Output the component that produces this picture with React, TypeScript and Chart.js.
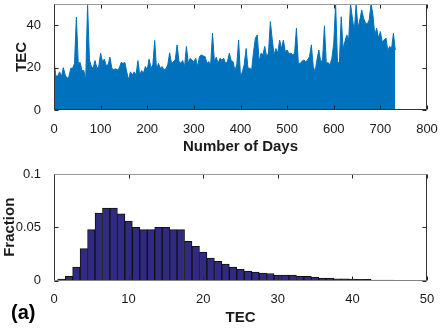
import React, { useEffect, useRef } from "react";
import { Chart, registerables } from "chart.js";

Chart.register(...registerables);

// ---------- data ----------
// Upper envelope of TEC, one value every DAY_STEP days (day 0 .. 732)
const DAY_STEP = 4;
const tecUpper: number[] = [
  23, 16, 16, 18, 15.7, 20, 16.5, 15, 15.7, 19.7,
  19.7, 22, 43.8, 22, 22.4, 18.6, 18.6, 14, 50, 23.6,
  20.5, 19.7, 23.3, 19.7, 20.5, 26.8, 22.8, 24, 21, 21.3,
  24.9, 19.7, 19, 19.4, 19, 19.7, 22.4, 22, 22.4, 18,
  14.2, 18, 16.5, 18, 16.5, 23.3, 16.5, 18.6, 17.3, 20.5,
  19, 24, 19.7, 21.3, 32.8, 19, 22, 19.7, 20.5, 18.9,
  19.4, 21.3, 27, 22, 22.8, 23.6, 30.7, 23, 22, 23.3,
  20.5, 30, 22, 24.4, 23.5, 22.8, 24.4, 20.5, 25.2, 26,
  25.5, 25.2, 22, 22.8, 21.3, 36.2, 22.8, 24.9, 22, 24.4,
  23.6, 24.4, 22, 22.8, 26.8, 23.3, 22.8, 18.6, 21.3, 33,
  15.7, 18, 21.3, 29, 19.7, 19.7, 19, 27.5, 33.9, 35.4,
  22.8, 26.8, 26, 30, 25.2, 26.8, 41.7, 33.4, 26, 29,
  26.8, 33, 29, 33, 27.5, 28.3, 26.5, 26.8, 26, 26.8,
  38.6, 22, 22, 23, 23.6, 22.8, 23.6, 25.2, 30.7, 20.5,
  18, 23.6, 28.3, 22.8, 23.6, 39.7, 22, 22.4, 21.3, 24.4,
  31.5, 50, 22.8, 22, 44, 29, 32.3, 35.4, 33, 50,
  43.3, 37, 50, 38.6, 42.5, 47.2, 43.3, 41, 40.5, 42.5,
  50, 44.9, 35.4, 38.6, 33.9, 37, 32, 33, 33.9, 28,
  30, 29, 36.2, 28.3,
];
const dayTicks = [0, 100, 200, 300, 400, 500, 600, 700, 800];
const tecTicks = [0, 20, 40];

// Histogram of TEC (bin centres 1..50, width 1)
const binCenters = [
  1, 2, 3, 4, 5, 6, 7, 8, 9, 10,
  11, 12, 13, 14, 15, 16, 17, 18, 19, 20,
  21, 22, 23, 24, 25, 26, 27, 28, 29, 30,
  31, 32, 33, 34, 35, 36, 37, 38, 39, 40,
  41, 42, 43, 44, 45, 46, 47, 48, 49, 50,
];
const fraction = [
  0.0013, 0.0038, 0.0126, 0.030, 0.0478, 0.0632, 0.0679, 0.0679, 0.0626, 0.0557,
  0.050, 0.0478, 0.0478, 0.050, 0.050, 0.0478, 0.0478, 0.0368, 0.0321, 0.0267,
  0.0211, 0.0179, 0.0154, 0.0126, 0.0104, 0.0088, 0.0079, 0.0069, 0.0066, 0.005,
  0.005, 0.005, 0.0038, 0.0038, 0.0031, 0.0022, 0.0022, 0.0016, 0.0015, 0.0013,
  0.0012, 0.0010, 0.0004, 0.0003, 0.0003, 0.0002, 0.0002, 0.0002, 0.0002, 0.0001,
];
const binTicks = [0, 10, 20, 30, 40, 50];
const fractionTicks = [0, 0.05, 0.1];

// ---------- styling ----------
const FONT = "'Liberation Sans', Arial, Helvetica, sans-serif";
const TEXT = "#1a1a1a";
const LINE_BLUE = "#0072BD";
const BAR_FILL = "#312a85";

function axesBox(id: string, bottomColor: string) {
  return {
    id,
    afterDatasetsDraw(chart: any) {
      const { ctx, chartArea, scales } = chart;
      const { left, right, top, bottom } = chartArea;
      const xs = scales.x;
      const ys = scales.y;
      const L = Math.round(left) + 0.5;
      const R = Math.round(right) - 0.5;
      const T = Math.round(top) + 0.5;
      const B = Math.round(bottom) - 0.5;
      ctx.save();
      ctx.lineWidth = 1;
      ctx.strokeStyle = "#262626";
      ctx.beginPath();
      for (const t of xs.ticks) {
        const px = Math.round(xs.getPixelForValue(t.value)) + 0.5;
        ctx.moveTo(px, B);
        ctx.lineTo(px, B - 4);
        ctx.moveTo(px, T);
        ctx.lineTo(px, T + 4);
      }
      for (const t of ys.ticks) {
        const py = Math.round(ys.getPixelForValue(t.value)) + 0.5;
        ctx.moveTo(L, py);
        ctx.lineTo(L + 4, py);
        ctx.moveTo(R, py);
        ctx.lineTo(R - 4, py);
      }
      ctx.stroke();
      // box
      ctx.strokeStyle = "#9a9a9a";
      ctx.beginPath();
      ctx.moveTo(L, T);
      ctx.lineTo(R, T);
      ctx.stroke();
      ctx.strokeStyle = "#333333";
      ctx.beginPath();
      ctx.moveTo(R, T);
      ctx.lineTo(R, B);
      ctx.moveTo(L, T);
      ctx.lineTo(L, B);
      ctx.stroke();
      ctx.strokeStyle = bottomColor;
      ctx.beginPath();
      ctx.moveTo(L, B);
      ctx.lineTo(R, B);
      ctx.stroke();
      ctx.restore();
    },
  };
}

function fixedTicks(values: number[]) {
  return (scale: any) => {
    scale.ticks = values.map((v) => ({ value: v }));
  };
}

function fitY(width: number) {
  return (scale: any) => {
    scale.width = width;
    scale.paddingTop = 0;
    scale.paddingBottom = 0;
  };
}
function fitX(height: number) {
  return (scale: any) => {
    scale.height = height;
    scale.paddingLeft = 0;
    scale.paddingRight = 0;
  };
}

const tickFont = { family: FONT, size: 13 };
const titleFont = { family: FONT, size: 15, weight: "bold" as const };

export default function App() {
  const topRef = useRef<HTMLCanvasElement | null>(null);
  const botRef = useRef<HTMLCanvasElement | null>(null);

  useEffect(() => {
    const seriesPoints = tecUpper.map((v, i) => ({ x: i * DAY_STEP, y: v }));
    const top = new Chart(topRef.current as HTMLCanvasElement, {
      type: "line",
      data: {
        datasets: [
          {
            data: seriesPoints,
            borderColor: LINE_BLUE,
            backgroundColor: LINE_BLUE,
            borderWidth: 1,
            pointRadius: 0,
            tension: 0,
            fill: "origin",
          },
        ],
      },
      options: {
        responsive: false,
        animation: false,
        devicePixelRatio: 1,
        layout: { padding: { top: 4, right: 16, left: 0, bottom: 0 } },
        plugins: { legend: { display: false }, tooltip: { enabled: false } },
        scales: {
          x: {
            type: "linear",
            min: 0,
            max: 800,
            afterBuildTicks: fixedTicks(dayTicks),
            afterFit: fitX(55),
            grid: { display: false },
            border: { display: false },
            ticks: { font: tickFont, color: TEXT, padding: 4, maxRotation: 0, autoSkip: false },
            title: {
              display: true,
              text: "Number of Days",
              font: titleFont,
              color: TEXT,
              padding: { top: 0, bottom: 9 },
            },
          },
          y: {
            type: "linear",
            min: 0,
            max: 50,
            afterBuildTicks: fixedTicks(tecTicks),
            afterFit: fitY(54),
            grid: { display: false },
            border: { display: false },
            ticks: { font: tickFont, color: TEXT, padding: 5 },
            title: {
              display: true,
              text: "TEC",
              font: titleFont,
              color: TEXT,
              padding: { top: 13, bottom: 0 },
            },
          },
        },
      },
      plugins: [axesBox("boxTop", "#333333")],
    });

    const bot = new Chart(botRef.current as HTMLCanvasElement, {
      type: "bar",
      data: {
        datasets: [
          {
            data: binCenters.map((c, i) => ({ x: c, y: fraction[i] })),
            backgroundColor: BAR_FILL,
            borderColor: "#111111",
            borderWidth: 1,
            barPercentage: 1,
            categoryPercentage: 1,
          },
        ],
      },
      options: {
        responsive: false,
        animation: false,
        devicePixelRatio: 1,
        layout: { padding: { top: 9, right: 16, left: 0, bottom: 0 } },
        plugins: { legend: { display: false }, tooltip: { enabled: false } },
        scales: {
          x: {
            type: "linear",
            min: 0,
            max: 50,
            offset: false,
            afterBuildTicks: fixedTicks(binTicks),
            afterFit: fitX(51.5),
            grid: { display: false, offset: false },
            border: { display: false },
            ticks: { font: tickFont, color: TEXT, padding: 3, maxRotation: 0, autoSkip: false },
            title: {
              display: true,
              text: "TEC",
              font: titleFont,
              color: TEXT,
              padding: { top: 0, bottom: 5 },
            },
          },
          y: {
            type: "linear",
            min: 0,
            max: 0.1,
            afterBuildTicks: fixedTicks(fractionTicks),
            afterFit: fitY(54),
            grid: { display: false },
            border: { display: false },
            ticks: {
              font: tickFont,
              color: TEXT,
              padding: 5,
              callback: (v: any) => String(Number(v)),
            },
            title: {
              display: true,
              text: "Fraction",
              font: titleFont,
              color: TEXT,
              padding: { top: 1, bottom: 0 },
            },
          },
        },
      },
      plugins: [axesBox("boxBot", "#808080")],
    });

    return () => {
      top.destroy();
      bot.destroy();
    };
  }, []);

  return (
    <div
      style={{
        position: "fixed",
        left: 0,
        top: 0,
        width: 443,
        height: 332,
        background: "#ffffff",
        overflow: "hidden",
      }}
    >
      <canvas
        ref={topRef}
        width={443}
        height={165}
        style={{ position: "absolute", left: 0, top: 0, width: 443, height: 165 }}
      />
      <canvas
        ref={botRef}
        width={443}
        height={167}
        style={{ position: "absolute", left: 0, top: 165, width: 443, height: 167 }}
      />
      <div
        style={{
          position: "absolute",
          left: 11,
          top: 302,
          fontFamily: FONT,
          fontWeight: "bold",
          fontSize: 20,
          lineHeight: "20px",
          color: "#000",
        }}
      >
        (a)
      </div>
    </div>
  );
}
